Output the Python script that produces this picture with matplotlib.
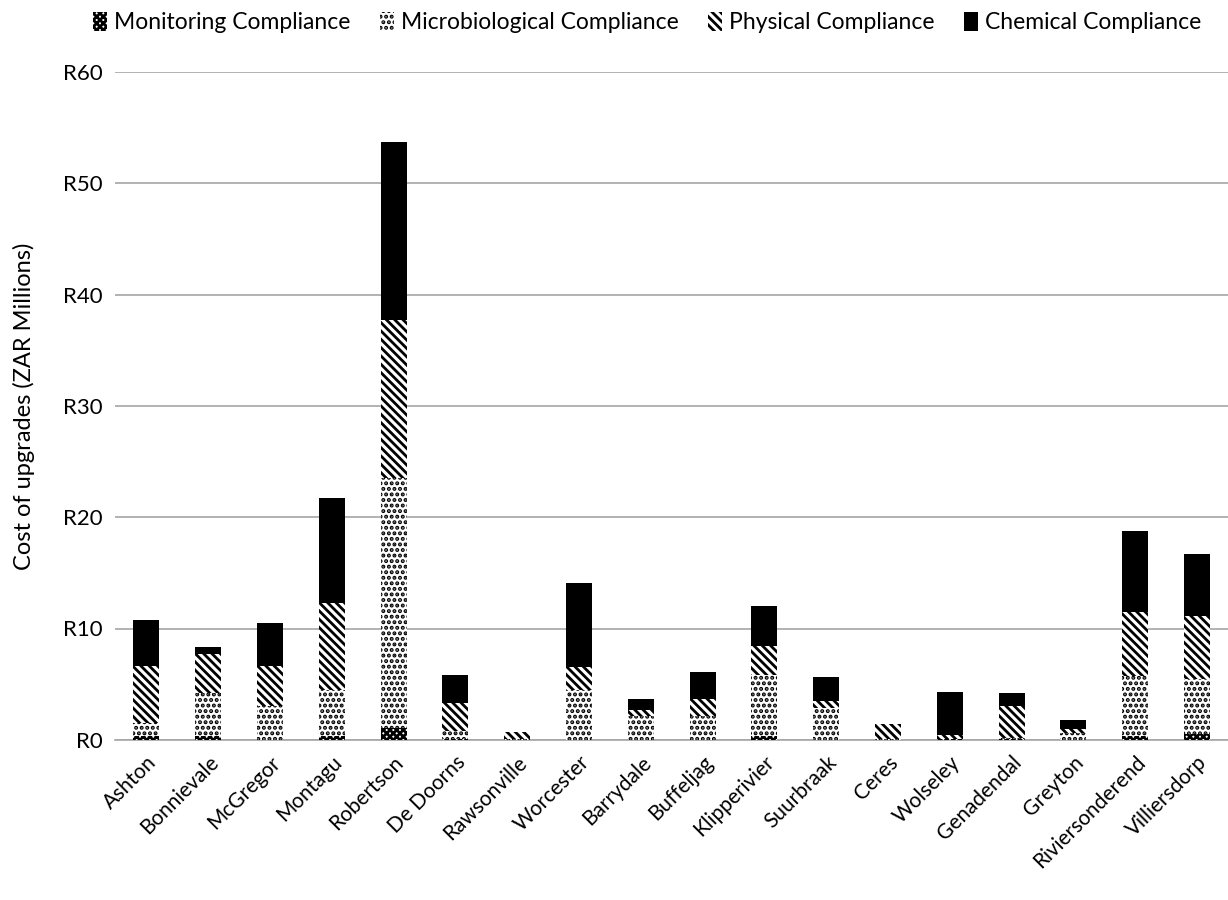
import numpy as np
import matplotlib.pyplot as plt

plt.rcParams['font.family'] = ['Lato', 'DejaVu Sans']
plt.rcParams['hatch.linewidth'] = 2.0

towns = ['Ashton', 'Bonnievale', 'McGregor', 'Montagu', 'Robertson', 'De Doorns',
         'Rawsonville', 'Worcester', 'Barrydale', 'Buffeljag', 'Klipperivier',
         'Suurbraak', 'Ceres', 'Wolseley', 'Genadendal', 'Greyton',
         'Riviersonderend', 'Villiersdorp']

# cost of upgrades, ZAR millions
monitoring = [0.3, 0.3, 0.0, 0.3, 1.1, 0.1, 0.0, 0.0, 0.0, 0.0, 0.3, 0.0, 0.0, 0.1, 0.1, 0.0, 0.3, 0.5]
micro      = [1.2, 3.9, 3.0, 4.2, 22.4, 0.7, 0.1, 4.5, 2.1, 2.1, 5.5, 2.9, 0.1, 0.0, 0.1, 0.6, 5.4, 5.0]
physical   = [5.1, 3.5, 3.6, 7.8, 14.2, 2.5, 0.6, 2.0, 0.6, 1.6, 2.6, 0.6, 1.3, 0.3, 2.8, 0.4, 5.8, 5.6]
chemical   = [4.2, 0.6, 3.9, 9.4, 16.0, 2.5, 0.0, 7.6, 1.0, 2.4, 3.6, 2.1, 0.0, 3.9, 1.2, 0.8, 7.3, 5.6]

series = [('Monitoring Compliance', monitoring, 'xxxxx'),
          ('Microbiological Compliance', micro, '...'),
          ('Physical Compliance', physical, '\\\\\\\\'),
          ('Chemical Compliance', chemical, None)]

fig = plt.figure(figsize=(12.28, 9), dpi=100)
ax = fig.add_axes([0.094, 0.178, 0.906, 0.742])

x = np.arange(len(towns))
bottom = np.zeros(len(towns))
for name, vals, hatch in series:
    vals = np.array(vals)
    if hatch is None:
        ax.bar(x, vals, 0.42, bottom=bottom, color='black', label=name, zorder=3)
    else:
        ax.bar(x, vals, 0.42, bottom=bottom, facecolor='white', edgecolor='black',
               hatch=hatch, linewidth=0, label=name, zorder=3)
    bottom += vals

ax.set_ylim(0, 60)
ax.set_xlim(-0.5, len(towns) - 0.5)
ax.set_yticks(range(0, 61, 10))
ax.set_yticklabels(['R%d' % v for v in range(0, 61, 10)], fontsize=16)
ax.set_xticks(x)
ax.set_xticklabels(towns, rotation=45, ha='right', rotation_mode='anchor', fontsize=15)
ax.tick_params(length=0, pad=9)
ax.yaxis.grid(True, color='#a6a6a6', linewidth=1.2, zorder=0)
for s in ['top', 'right', 'left']:
    ax.spines[s].set_visible(False)
ax.spines['bottom'].set_color('#a6a6a6')
ax.spines['bottom'].set_linewidth(1.2)
ax.set_ylabel('Cost of upgrades (ZAR Millions)', fontsize=17, labelpad=20)

fig.legend(loc='upper center', bbox_to_anchor=(0.527, 1.01), ncol=4, frameon=False,
           fontsize=16.5, handlelength=0.6, handleheight=0.9, handletextpad=0.3,
           columnspacing=1.3)

fig.savefig('out.png', dpi=100)
